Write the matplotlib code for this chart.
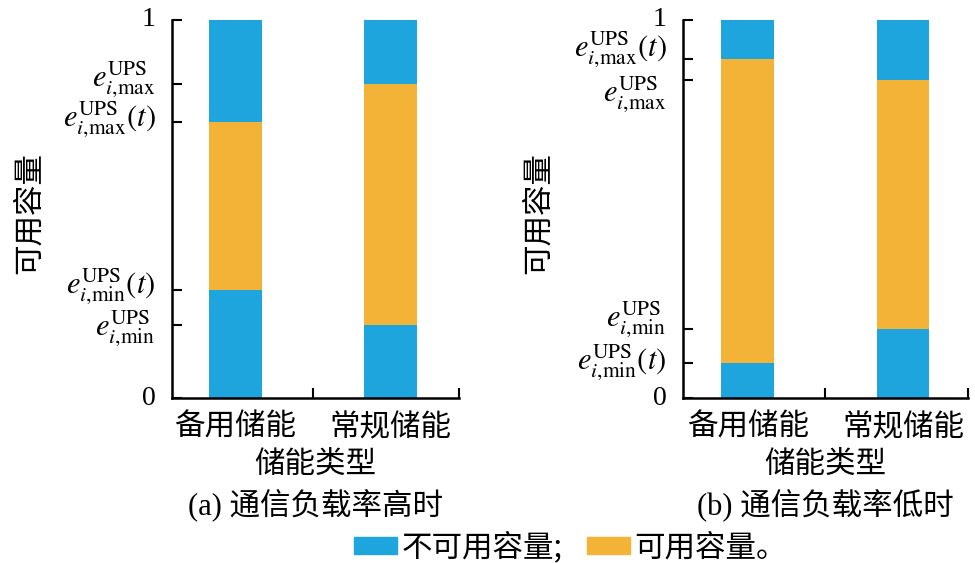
import matplotlib
matplotlib.use("Agg")
import matplotlib.pyplot as plt
from matplotlib.patches import Patch
from matplotlib.transforms import offset_copy

plt.rcParams['font.family'] = ['Liberation Serif', 'Noto Sans CJK SC']
plt.rcParams['mathtext.fontset'] = 'stix'

categories = ["备用储能", "常规储能"]
legend_labels = ["不可用容量;", "可用容量。"]

E_MAX = r"$e_{i,\!\mathrm{max}}^{\mathrm{UPS}}$"
E_MIN = r"$e_{i,\!\mathrm{min}}^{\mathrm{UPS}}$"
E_MAX_T = r"$e_{i,\!\mathrm{max}}^{\mathrm{UPS}}(t)$"
E_MIN_T = r"$e_{i,\!\mathrm{min}}^{\mathrm{UPS}}(t)$"

# (a) 通信负载率高时: ticks and stacked segments
ticks_a = [0, 0.193, 0.285, 0.730, 0.829, 1]
labels_a = ["0", E_MIN, E_MIN_T, E_MAX_T, E_MAX, "1"]
shift_a = [0, -4, 3, 2, 4, 0]     # label nudge in px (up +)
low_a = [0.285, 0.193]      # unavailable bottom
avail_a = [0.445, 0.636]    # available middle
high_a = [0.270, 0.171]     # unavailable top

# (b) 通信负载率低时
ticks_b = [0, 0.092, 0.182, 0.840, 0.896, 1]
labels_b = ["0", E_MIN_T, E_MIN, E_MAX, E_MAX_T, "1"]
shift_b = [0, 0, 9, -15, 9, 0]
low_b = [0.092, 0.182]
avail_b = [0.804, 0.658]
high_b = [0.104, 0.160]

blue = "#1FA5DE"
orange = "#F2B337"
cjk = "Noto Sans CJK SC"

fig = plt.figure(figsize=(9.75, 5.63), dpi=100)
ax1 = fig.add_axes([0.176, 0.293, 0.295, 0.672])
ax2 = fig.add_axes([0.700, 0.293, 0.293, 0.672])


def draw(ax, low, avail, high, ticks, labels, shifts, caption, xlim, ylab_x):
    x = range(len(categories))
    ax.bar(x, low, width=0.34, color=blue)
    ax.bar(x, avail, width=0.34, bottom=low, color=orange)
    bot2 = [a + b for a, b in zip(low, avail)]
    ax.bar(x, high, width=0.34, bottom=bot2, color=blue)
    ax.set_ylim(0, 1)
    ax.set_xlim(*xlim)
    ax.set_yticks(ticks)
    ax.set_yticklabels([])
    for t, lab, s in zip(ticks, labels, shifts):
        fs = 22 if lab.startswith("$") else 20
        tr = offset_copy(ax.get_yaxis_transform(), fig=fig, x=-16, y=s, units="dots")
        ax.text(0, t, lab, ha="right", va="center", fontsize=fs, transform=tr)
    ax.set_xticks([0.5, xlim[1]])
    ax.set_xticklabels([])
    for i, c in enumerate(categories):
        ax.text(i, -0.078, c, ha="center", va="center", fontsize=22,
                family=cjk, transform=ax.get_xaxis_transform())
    ax.tick_params(axis="both", direction="in", length=7, width=1.5)
    for s in ["top", "right"]:
        ax.spines[s].set_visible(False)
    ax.spines["left"].set_linewidth(1.8)
    ax.spines["bottom"].set_linewidth(1.8)
    ax.set_ylabel("可用容量", fontsize=22, family=cjk)
    ax.yaxis.set_label_coords(ylab_x, 0.49)
    ax.text(0.5, -0.176, "储能类型", ha="center", va="center", fontsize=22,
            family=cjk, transform=ax.transAxes)
    ax.text(0.5, -0.283, caption, ha="center", va="center", fontsize=22,
            transform=ax.transAxes)


draw(ax1, low_a, avail_a, high_a, ticks_a, labels_a, shift_a,
     "(a) 通信负载率高时", (-0.41, 1.44), -0.44)
draw(ax2, low_b, avail_b, high_b, ticks_b, labels_b, shift_b,
     "(b) 通信负载率低时", (-0.42, 1.42), -0.45)

handles = [Patch(color=blue), Patch(color=orange)]
fig.legend(handles, legend_labels, loc="center", bbox_to_anchor=(0.585, 0.028),
           ncol=2, frameon=False, handlelength=1.4, handleheight=0.5,
           handletextpad=0.15, columnspacing=0.8, prop={"family": cjk, "size": 22})

fig.savefig("out.png", dpi=100)
